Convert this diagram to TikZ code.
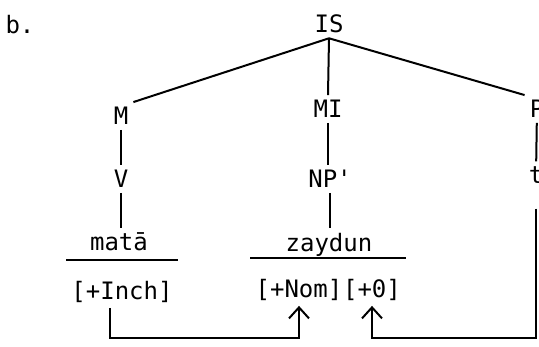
\documentclass[tikz,border=0pt]{standalone}
\usepackage{fontspec}
\setmonofont{DejaVu Sans Mono}
\usetikzlibrary{arrows.meta}

\begin{document}
\begin{tikzpicture}[x=1pt, y=-1pt,
    cat/.style={font=\ttfamily\fontsize{24}{28}\selectfont, inner sep=5pt},
    branch/.style={draw=black, line width=2pt},
    feed/.style={draw=black, line width=2pt, -{Straight Barb[length=11pt, width=20pt]}}
  ]
  \useasboundingbox (0,0) rectangle (539,346);
  % Example label
  \node[cat] (lbl) at (20,25) {b.};
  % Top of the tree
  \node[cat] (is) at (329,24) {IS};
  \node[cat] (m) at (121,116) {M};
  \node[cat] (mi) at (328,109) {MI};
  \node[cat] (p) at (537,109) {P};
  \draw[branch] (is.south) -- (m.north east);
  \draw[branch] (is.south) -- (mi.north);
  \draw[branch] (is.south) -- (p.north west);
  % Second level
  \node[cat] (v) at (121,179) {V};
  \node[cat] (np) at (330,179) {NP'};
  \node[cat] (t) at (536,175) {t};
  \draw[branch] (m) -- (v);
  \draw[branch] (mi.south) -- (mi.south |- np.north);
  \draw[branch] (p) -- (t);
  % Words
  \node[cat] (mata) at (119,242) {matā};
  \node[cat] (zay) at (329,245) {zaydun};
  \draw[branch] (v.south) -- (v.south |- mata.north);
  \draw[branch] (np.south) -- (np.south |- zay.north);
  % Features
  \node[cat] (inch) at (122,292) {[+Inch]};
  \node[cat] (nom) at (299,290) {[+Nom]};
  \node[cat] (obj) at (372,290) {[+0]};
  \draw[branch] ([yshift=16pt]inch.north west) -- ([yshift=16pt]inch.north east);
  \draw[branch] ([yshift=16pt]nom.north west) -- ([yshift=16pt]obj.north east);
  % Links to the features
  \coordinate (floor) at (0,338);
  \draw[feed] ([xshift=-12pt]inch.south) -- ([xshift=-12pt]inch.south |- floor) -| (nom.south);
  \draw[feed, shorten <=20pt] (t.south) -- (t.south |- floor) -| (obj.south);
\end{tikzpicture}
\end{document}
